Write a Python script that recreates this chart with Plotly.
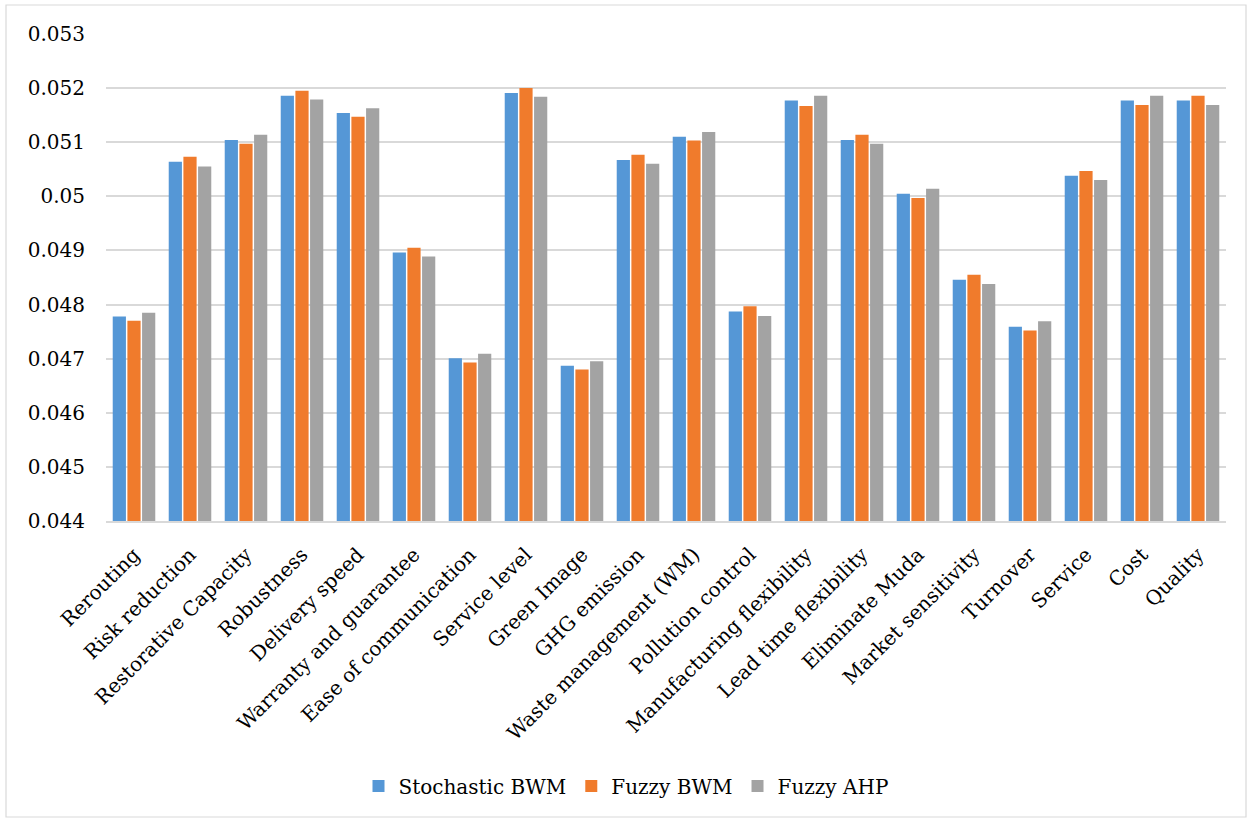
import plotly.graph_objects as go

categories = ["Rerouting", "Risk reduction", "Restorative Capacity", "Robustness",
              "Delivery speed", "Warranty and guarantee", "Ease of communication",
              "Service level", "Green Image", "GHG emission", "Waste management (WM)",
              "Pollution control", "Manufacturing flexibility", "Lead time flexibility",
              "Eliminate Muda", "Market sensitivity", "Turnover", "Service", "Cost", "Quality"]

stochastic_bwm = [0.04778, 0.05064, 0.05104, 0.05186, 0.05154, 0.04896, 0.04701,
                  0.05191, 0.04687, 0.05067, 0.05110, 0.04787, 0.05177, 0.05104,
                  0.05005, 0.04846, 0.04759, 0.05038, 0.05177, 0.05177]
fuzzy_bwm = [0.04770, 0.05073, 0.05097, 0.05195, 0.05147, 0.04905, 0.04693,
             0.05200, 0.04680, 0.05077, 0.05103, 0.04797, 0.05167, 0.05114,
             0.04997, 0.04855, 0.04752, 0.05047, 0.05169, 0.05186]
fuzzy_ahp = [0.04785, 0.05055, 0.05114, 0.05179, 0.05163, 0.04889, 0.04709,
             0.05184, 0.04695, 0.05060, 0.05119, 0.04779, 0.05186, 0.05097,
             0.05014, 0.04838, 0.04769, 0.05030, 0.05186, 0.05169]

series_names = ["Stochastic BWM", "Fuzzy BWM", "Fuzzy AHP"]
series_colors = ["#5597D6", "#F07B2C", "#A3A3A3"]

y_tickvals = [0.044, 0.045, 0.046, 0.047, 0.048, 0.049, 0.050, 0.051, 0.052, 0.053]
y_ticktext = ["0.044", "0.045", "0.046", "0.047", "0.048", "0.049", "0.05", "0.051", "0.052", "0.053"]

FONT = "DejaVu Serif"

fig = go.Figure()
for name, vals, col in zip(series_names, [stochastic_bwm, fuzzy_bwm, fuzzy_ahp], series_colors):
    fig.add_trace(go.Bar(
        x=categories, y=vals, name=name,
        marker=dict(color=col, line=dict(width=0)),
    ))

W, H = 1253, 822
L, R, T, B = 106, 27, 34, 301
pw = W - L - R
ph = H - T - B

def px_x(x):
    return (x - L) / pw

def px_y(y):
    return (H - B - y) / ph

fig.update_layout(
    width=W, height=H,
    margin=dict(l=L, r=R, t=T, b=B, autoexpand=False),
    paper_bgcolor="white", plot_bgcolor="white",
    barmode="group", bargap=0.214, bargroupgap=0.1,
    font=dict(family=FONT, size=20, color="#000000"),
    showlegend=True,
    legend=dict(
        orientation="h", x=px_x(626), xanchor="center",
        y=px_y(786), yanchor="middle",
        font=dict(family=FONT, size=20, color="#000000"),
        traceorder="normal",
    ),
    xaxis=dict(
        tickangle=-45, showgrid=False, showline=True, linecolor="#D9D9D9", linewidth=2,
        ticks="", ticklabelstandoff=12,
        tickfont=dict(family=FONT, size=20, color="#000000"),
        fixedrange=True,
    ),
    yaxis=dict(
        range=[0.044, 0.053], tickvals=y_tickvals, ticktext=y_ticktext,
        showgrid=True, gridcolor="#D9D9D9", gridwidth=1.5,
        zeroline=False, showline=False, ticks="",
        ticklabelstandoff=20,
        tickfont=dict(family=FONT, size=20, color="#000000"),
        fixedrange=True,
    ),
    shapes=[dict(
        type="rect", xref="paper", yref="paper",
        x0=px_x(6), x1=px_x(1246), y0=px_y(817), y1=px_y(5),
        line=dict(color="#D9D9D9", width=1.2), fillcolor="rgba(0,0,0,0)", layer="below",
    )],
)

fig.write_html("out.html", config={"displayModeBar": False},
               post_script="document.body.style.margin='0px';document.body.style.padding='0px';")
